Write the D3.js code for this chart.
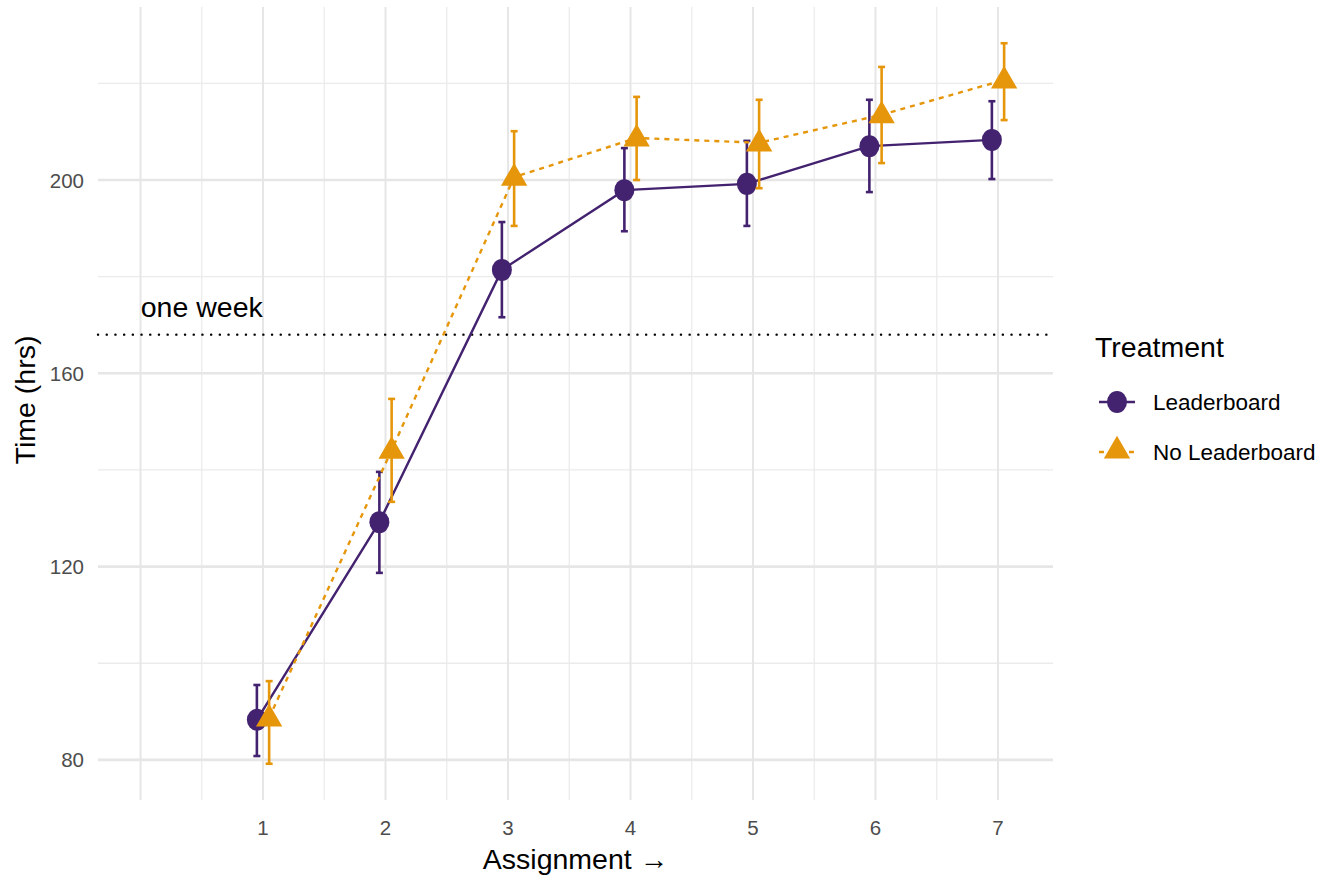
<!DOCTYPE html>
<html>
<head>
<meta charset="utf-8">
<script src="https://cdn.jsdelivr.net/npm/d3@7"></script>
<style>
  body { margin: 0; background: #fff; }
  text { font-family: "Liberation Sans", Arial, sans-serif; }
</style>
</head>
<body>
<div id="chart"></div>
<script>
// data
const assignments = [1, 2, 3, 4, 5, 6, 7];
const treatments = ["Leaderboard", "No Leaderboard"];
const leaderMean = [88.3, 129.2, 181.4, 197.9, 199.2, 207.0, 208.3];
const leaderLow  = [80.8, 118.7, 171.6, 189.4, 190.5, 197.5, 200.2];
const leaderHigh = [95.5, 139.6, 191.3, 206.6, 208.1, 216.6, 216.3];
const noLeaderMean = [88.7, 144.1, 200.6, 208.7, 207.7, 213.5, 220.7];
const noLeaderLow  = [79.2, 133.4, 190.5, 200.0, 198.3, 203.5, 212.4];
const noLeaderHigh = [96.3, 154.7, 210.1, 217.2, 216.6, 223.4, 228.3];
const yTicks = [80, 120, 160, 200];
const oneWeek = 168;

const W = 1332, H = 880;
const margin = {top: 7, right: 279, bottom: 80, left: 98};
const pw = W - margin.left - margin.right, ph = H - margin.top - margin.bottom;

const colors = {"Leaderboard": "#43226f", "No Leaderboard": "#E6960A"};
const dodge = {"Leaderboard": -0.05, "No Leaderboard": 0.05};

const series = [
  {name: "Leaderboard", mean: leaderMean, lo: leaderLow, hi: leaderHigh, dash: null},
  {name: "No Leaderboard", mean: noLeaderMean, lo: noLeaderLow, hi: noLeaderHigh, dash: "5,5"}
];

const svg = d3.select("#chart").append("svg")
  .attr("width", W).attr("height", H);

const x = d3.scaleLinear().domain([-0.347, 7.449]).range([0, pw]);
const y = d3.scaleLinear().domain([71.7, 235.8]).range([ph, 0]);

const g = svg.append("g").attr("transform", "translate(" + margin.left + "," + margin.top + ")");

// grid
const xMajor = d3.range(0, 8);
const xMinor = d3.range(0.5, 7, 1);
const yMinor = [100, 140, 180, 220];

g.selectAll("line.xminor").data(xMinor).enter().append("line")
  .attr("x1", d => x(d)).attr("x2", d => x(d)).attr("y1", 0).attr("y2", ph)
  .attr("stroke", "#ebebeb").attr("stroke-width", 1.3);
g.selectAll("line.yminor").data(yMinor).enter().append("line")
  .attr("y1", d => y(d)).attr("y2", d => y(d)).attr("x1", 0).attr("x2", pw)
  .attr("stroke", "#ebebeb").attr("stroke-width", 1.3);
g.selectAll("line.xmajor").data(xMajor).enter().append("line")
  .attr("x1", d => x(d)).attr("x2", d => x(d)).attr("y1", 0).attr("y2", ph)
  .attr("stroke", "#e6e6e6").attr("stroke-width", 2);
g.selectAll("line.ymajor").data(yTicks).enter().append("line")
  .attr("y1", d => y(d)).attr("y2", d => y(d)).attr("x1", 0).attr("x2", pw)
  .attr("stroke", "#e6e6e6").attr("stroke-width", 2.6);

// one week reference line
g.append("line")
  .attr("x1", 0).attr("x2", pw).attr("y1", y(oneWeek)).attr("y2", y(oneWeek))
  .attr("stroke", "#000").attr("stroke-width", 2.4)
  .attr("stroke-dasharray", "0.1,8.6").attr("stroke-linecap", "round");
g.append("text")
  .attr("x", x(0.5)).attr("y", y(oneWeek) - 18)
  .attr("text-anchor", "middle").attr("font-size", 28.5).attr("fill", "#000")
  .text("one week");

// axes tick labels
g.selectAll("text.xt").data(assignments).enter().append("text")
  .attr("x", d => x(d)).attr("y", ph + 35)
  .attr("text-anchor", "middle").attr("font-size", 20.5).attr("fill", "#4d4d4d")
  .text(d => d);
g.selectAll("text.yt").data(yTicks).enter().append("text")
  .attr("x", -14).attr("y", d => y(d) + 7.5)
  .attr("text-anchor", "end").attr("font-size", 20.5).attr("fill", "#4d4d4d")
  .text(d => d);

// axis titles
svg.append("text")
  .attr("x", margin.left + pw / 2).attr("y", 869)
  .attr("text-anchor", "middle").attr("font-size", 28.5).attr("fill", "#000")
  .text("Assignment \u2192");
svg.append("text")
  .attr("transform", "translate(35,400) rotate(-90)")
  .attr("text-anchor", "middle").attr("font-size", 28.5).attr("fill", "#000")
  .text("Time (hrs)");

// series
const line = d3.line().x(d => x(d.a + d.off)).y(d => y(d.v));
const triangle = d3.symbol().type(d3.symbolTriangle).size(300);

series.forEach(s => {
  const pts = assignments.map((a, i) => ({a: a, off: dodge[s.name], v: s.mean[i], lo: s.lo[i], hi: s.hi[i]}));
  const col = colors[s.name];
  const sg = g.append("g");

  sg.append("path").datum(pts)
    .attr("d", line).attr("fill", "none")
    .attr("stroke", col).attr("stroke-width", 2.4)
    .attr("stroke-dasharray", s.dash);

  // error bars
  sg.selectAll("line.err").data(pts).enter().append("line")
    .attr("x1", d => x(d.a + d.off)).attr("x2", d => x(d.a + d.off))
    .attr("y1", d => y(d.lo)).attr("y2", d => y(d.hi))
    .attr("stroke", col).attr("stroke-width", 2.6);
  ["lo", "hi"].forEach(k => {
    sg.selectAll("line.cap" + k).data(pts).enter().append("line")
      .attr("x1", d => x(d.a + d.off) - 3.5).attr("x2", d => x(d.a + d.off) + 3.5)
      .attr("y1", d => y(d[k])).attr("y2", d => y(d[k]))
      .attr("stroke", col).attr("stroke-width", 2.6);
  });

  if (s.name === "Leaderboard") {
    sg.selectAll("ellipse").data(pts).enter().append("ellipse")
      .attr("cx", d => x(d.a + d.off)).attr("cy", d => y(d.v))
      .attr("rx", 10).attr("ry", 11).attr("fill", col);
  } else {
    sg.selectAll("path.tri").data(pts).enter().append("path")
      .attr("transform", d => "translate(" + x(d.a + d.off) + "," + (y(d.v) + 1) + ")")
      .attr("d", triangle).attr("fill", col);
  }
});

// legend
const lg = svg.append("g").attr("transform", "translate(1095,0)");
lg.append("text").attr("x", 0).attr("y", 357)
  .attr("font-size", 28.5).attr("fill", "#000").text("Treatment");
treatments.forEach((t, i) => {
  const cy = 402 + i * 50;
  const col = colors[t];
  lg.append("line").attr("x1", 4).attr("x2", 40).attr("y1", cy).attr("y2", cy)
    .attr("stroke", col).attr("stroke-width", 2.4)
    .attr("stroke-dasharray", t === "No Leaderboard" ? "5,5" : null);
  if (t === "Leaderboard") {
    lg.append("ellipse").attr("cx", 22).attr("cy", cy).attr("rx", 10).attr("ry", 11).attr("fill", col);
  } else {
    lg.append("path").attr("transform", "translate(22," + (cy - 1) + ")")
      .attr("d", triangle).attr("fill", col);
  }
  lg.append("text").attr("x", 58).attr("y", cy + 8)
    .attr("font-size", 22.5).attr("fill", "#000").text(t);
});
</script>
</body>
</html>
